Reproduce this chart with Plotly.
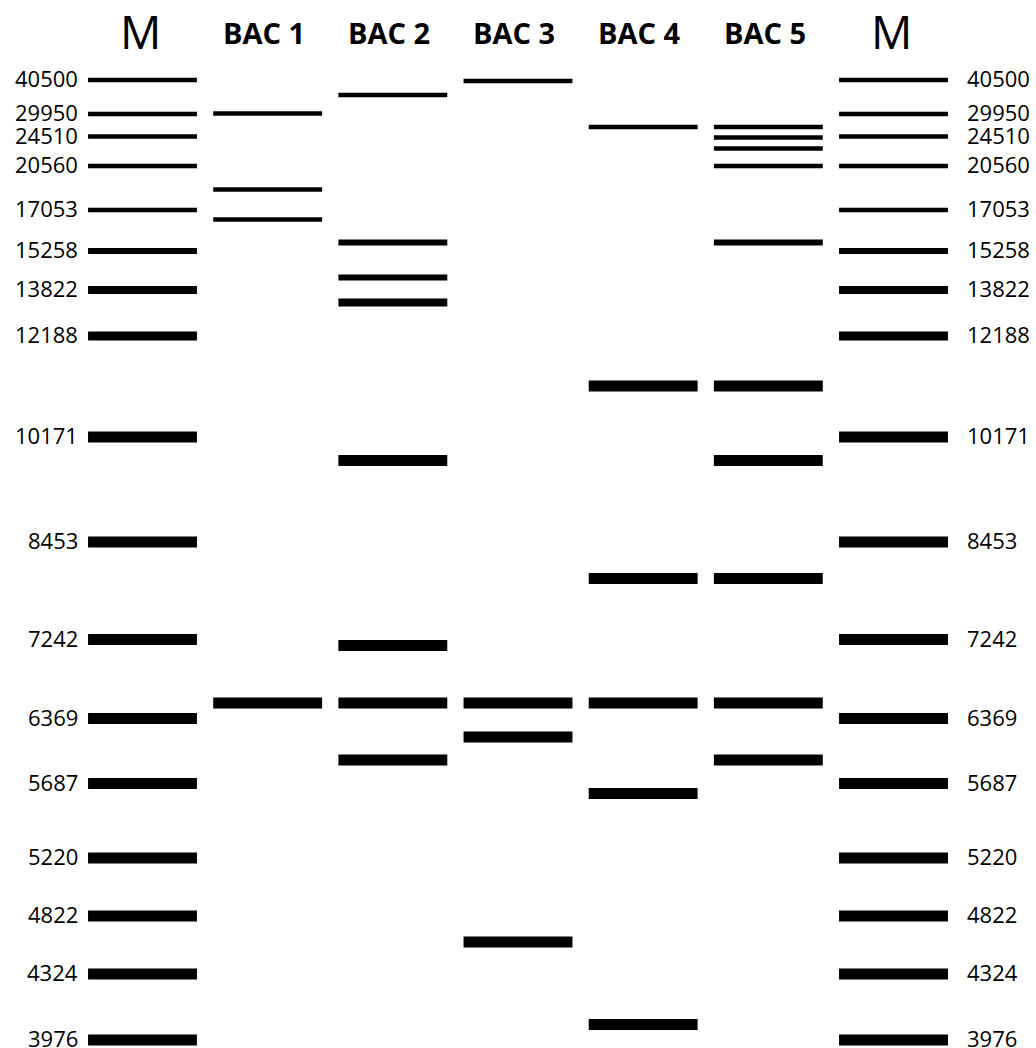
import plotly.graph_objects as go

# Lanes
lanes = ["M", "BAC 1", "BAC 2", "BAC 3", "BAC 4", "BAC 5", "M"]

# Marker sizes (bp) and their migration distance (arbitrary units, top = 0)
marker_sizes = [40500, 29950, 24510, 20560, 17053, 15258, 13822, 12188,
                10171, 8453, 7242, 6369, 5687, 5220, 4822, 4324, 3976]
marker_migration = [80, 114, 136.5, 166, 210, 251, 290, 336,
                    437, 542, 639.5, 718.5, 783.5, 858, 916, 974, 1040]

# Sample band migrations per BAC lane
bac1 = [113.5, 189.5, 219.5, 703]
bac2 = [95, 242.5, 277.5, 302.5, 460.5, 645.5, 703, 760]
bac3 = [81, 703, 737, 942]
bac4 = [127, 386, 578.5, 703, 793.5, 1024.5]
bac5 = [127, 137.5, 148.5, 166, 242.5, 386, 460.5, 578.5, 703, 760]

lane_bands = [marker_migration, bac1, bac2, bac3, bac4, bac5, marker_migration]


def band_width(m):
    # bands drawn thicker as they migrate further (schematic)
    if m <= 235:
        return 4.5
    if m <= 280:
        return 6
    if m <= 310:
        return 8
    if m <= 340:
        return 9
    return 11


HALF = 0.435
fig = go.Figure()
for i, bands in enumerate(lane_bands):
    for m in bands:
        fig.add_trace(go.Scatter(
            x=[i - HALF, i + HALF], y=[m, m], mode="lines",
            line=dict(color="black", width=band_width(m)),
            hoverinfo="skip", showlegend=False))

annotations = []
# Lane titles
for i, name in enumerate(lanes):
    if name == "M":
        annotations.append(dict(x=i - 0.02, y=31, text="M", showarrow=False,
                                xanchor="center", yanchor="middle",
                                font=dict(family="Open Sans", size=46, color="black")))
    else:
        annotations.append(dict(x=i - 0.03, y=32, text="<b>%s</b>" % name, showarrow=False,
                                xanchor="center", yanchor="middle",
                                font=dict(family="Open Sans", size=29, color="black")))

# Marker labels both sides
for s, m in zip(marker_sizes, marker_migration):
    annotations.append(dict(x=-0.5, y=m, text=str(s), showarrow=False,
                            xanchor="right", yanchor="middle", yshift=2,
                            font=dict(family="Open Sans", size=22, color="black")))
    annotations.append(dict(x=6.57, y=m, text=str(s), showarrow=False,
                            xanchor="left", yanchor="middle", yshift=2,
                            font=dict(family="Open Sans", size=22, color="black")))

fig.update_layout(
    width=1036, height=1048,
    margin=dict(l=0, r=0, t=0, b=0),
    paper_bgcolor="white", plot_bgcolor="white",
    xaxis=dict(range=[-1.1385, 7.1385], visible=False, fixedrange=True),
    yaxis=dict(range=[1048, 0], visible=False, fixedrange=True),
    annotations=annotations,
    showlegend=False,
)

fig.write_html("out.html", config={"displayModeBar": False},
               post_script="document.body.style.margin='0';document.body.style.overflow='hidden';")
